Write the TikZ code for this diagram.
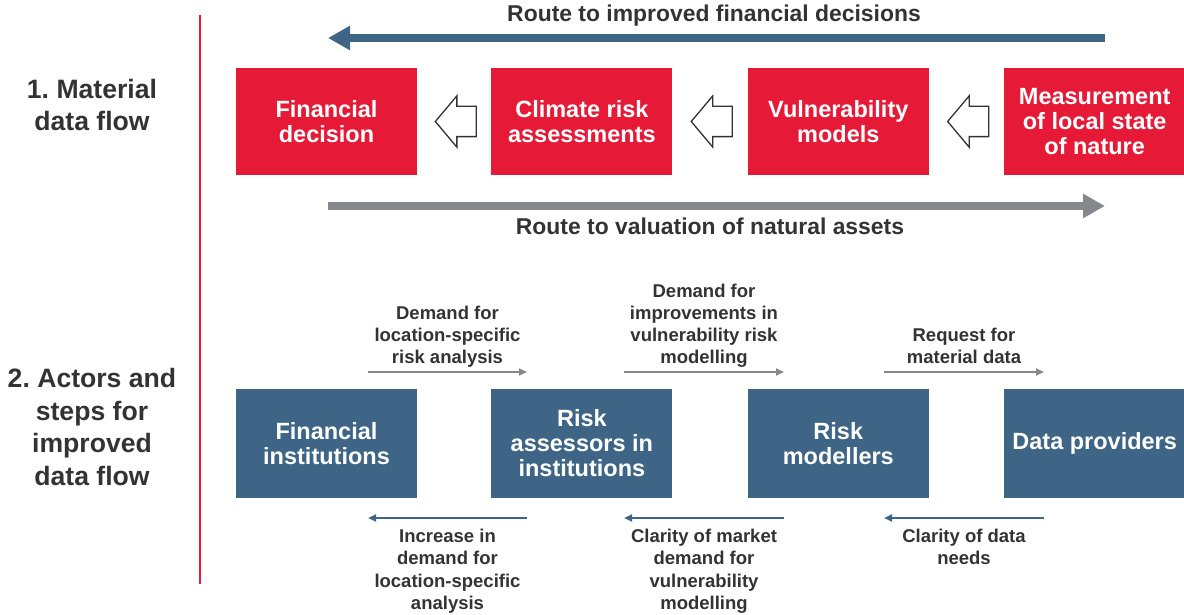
\documentclass[tikz,border=0pt]{standalone}
\usepackage{fontspec}
\setmainfont{Liberation Sans}
\usetikzlibrary{positioning,calc,arrows.meta,shapes.arrows}
\frenchspacing

\definecolor{flowred}{HTML}{E61A37}
\definecolor{actorblue}{HTML}{3E6585}
\definecolor{routegrey}{HTML}{86888B}
\definecolor{labelgrey}{HTML}{333333}

\tikzset{
	flowbox/.style={fill=flowred, text=white, minimum width=181pt, minimum height=107pt, inner sep=0pt, align=center, font=\fontsize{23.5}{25}\selectfont\bfseries},
	actorbox/.style={flowbox, fill=actorblue, minimum height=109pt},
	hollow/.style={single arrow, draw=labelgrey, fill=white, line width=1.3pt, shape border rotate=180, minimum height=41pt, minimum width=50pt, single arrow head extend=10.5pt, single arrow tip angle=100, inner xsep=0pt, inner ysep=14.5pt, xshift=8pt},
	rowlabel/.style={text=labelgrey, align=center, inner sep=0pt, font=\fontsize{26.6}{32.5}\selectfont\bfseries},
	routelabel/.style={text=labelgrey, inner sep=0pt, font=\fontsize{22.9}{27}\selectfont\bfseries},
	steplabel/.style={text=labelgrey, align=center, inner sep=0pt, font=\fontsize{18.5}{22.2}\selectfont\bfseries},
	bigarrow/.style={line width=8pt, -{Triangle[length=22pt,width=23pt]}},
	smallarrow/.style={line width=2pt, -{Triangle[length=8pt,width=7pt]}},
	divider/.style={draw=flowred, line width=2.4pt}
}

\begin{document}
\begin{tikzpicture}[x=1pt,y=-1pt]
		\useasboundingbox (0,0) rectangle (1184,615);
		% divider between headings and diagram
		\coordinate (divtop) at (200,15);
		\coordinate (divbot) at (200,584);
		\draw[divider] (divtop) -- (divbot);
		\node[rowlabel] (row1) at (92,105) {1. Material\\data flow};
		\node[rowlabel] (row2) at (92,427) {2. Actors and\\steps for\\improved\\data flow};

		% 1. material data flow
		\node[flowbox] (fin) at (326.5,121.5) {Financial\\decision};
		\node[flowbox, right=74pt of fin] (clim) {Climate risk\\assessments};
		\node[flowbox, right=75pt of clim] (vuln) {Vulnerability\\models};
		\node[flowbox, right=75pt of vuln] (meas) {Measurement\\of local state\\of nature};
		\node[hollow] (h1) at ($(fin.east)!0.5!(clim.west)$) {};
		\node[hollow] (h2) at ($(clim.east)!0.5!(vuln.west)$) {};
		\node[hollow] (h3) at ($(vuln.east)!0.5!(meas.west)$) {};

		\coordinate (upstart) at (1105,38);
		\coordinate (upend) at (328,38);
		\draw[bigarrow, actorblue] (upstart) -- (upend);
		\node[routelabel] (uplabel) at (714,16) {Route to improved financial decisions};
		\coordinate (downstart) at (328,206);
		\coordinate (downend) at (1105,206);
		\draw[bigarrow, routegrey] (downstart) -- (downend);
		\node[routelabel] (downlabel) at (710,226) {Route to valuation of natural assets};

		% 2. actors and steps
		\node[actorbox] (fi) at (326.5,443.5) {Financial\\institutions};
		\node[actorbox, right=74pt of fi] (ra) {Risk\\assessors in\\institutions};
		\node[actorbox, right=75pt of ra] (rm) {Risk\\modellers};
		\node[actorbox, right=75pt of rm] (dp) {Data providers};

		\foreach \i/\xa/\xb in {1/368/527, 2/624/784, 3/884/1044} {
			\coordinate (req\i a) at (\xa,372);
			\coordinate (req\i b) at (\xb,372);
			\draw[smallarrow, routegrey] (req\i a) -- (req\i b);
			\coordinate (fb\i a) at (\xb,518);
			\coordinate (fb\i b) at (\xa,518);
			\draw[smallarrow, actorblue] (fb\i a) -- (fb\i b);
		}
		\node[steplabel, anchor=south, text depth=0pt, yshift=8pt] (req1) at ($(req1a)!0.5!(req1b)$) {Demand for\\location-specific\\risk analysis};
		\node[steplabel, anchor=south, text depth=0pt, yshift=8pt] (req2) at ($(req2a)!0.5!(req2b)$) {Demand for\\improvements in\\vulnerability risk\\modelling};
		\node[steplabel, anchor=south, text depth=0pt, yshift=8pt] (req3) at ($(req3a)!0.5!(req3b)$) {Request for\\material data};
		\node[steplabel, anchor=north, yshift=-11pt] (fb1) at ($(fb1a)!0.5!(fb1b)$) {Increase in\\demand for\\location-specific\\analysis};
		\node[steplabel, anchor=north, yshift=-11pt] (fb2) at ($(fb2a)!0.5!(fb2b)$) {Clarity of market\\demand for\\vulnerability\\modelling};
		\node[steplabel, anchor=north, yshift=-11pt] (fb3) at ($(fb3a)!0.5!(fb3b)$) {Clarity of data\\needs};
	\end{tikzpicture}
\end{document}
